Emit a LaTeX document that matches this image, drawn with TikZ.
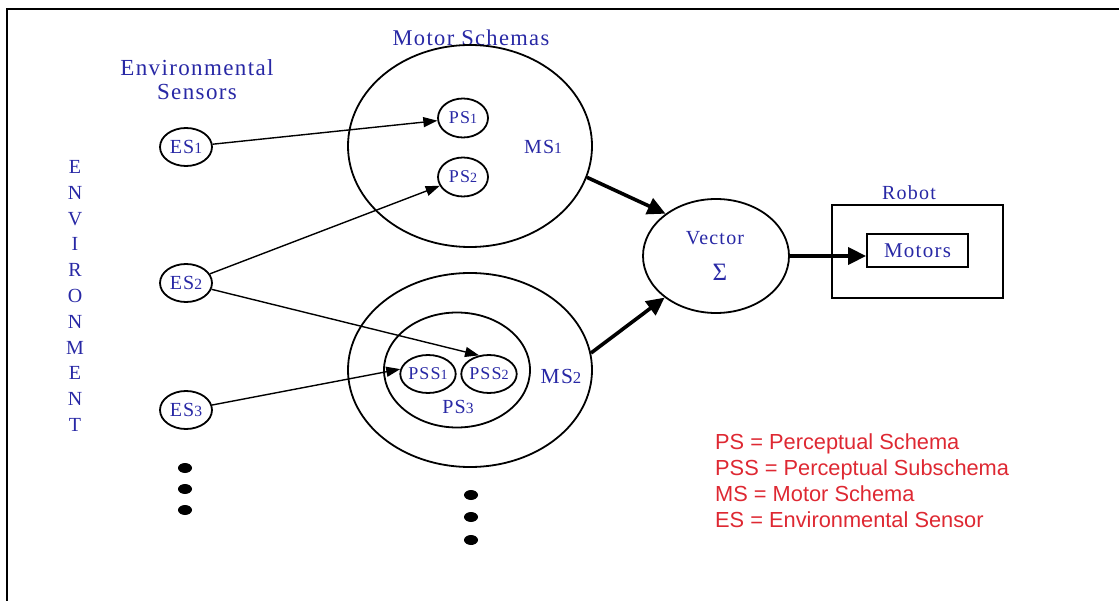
\documentclass[tikz,border=0pt]{standalone}
\usepackage{fontspec}
\setmainfont{Liberation Serif}
\newfontfamily\legendfont{Liberation Sans}
\usetikzlibrary{shapes.geometric,arrows.meta}
\definecolor{txtblue}{RGB}{40,40,165}
\definecolor{legred}{RGB}{222,40,50}
\newcommand\smalldig[1]{\scalebox{0.78}{#1}}
\newcommand\bfs[1]{\fontsize{#1}{#1}\selectfont\addfontfeature{LetterSpace=6}}
\begin{document}
\begin{tikzpicture}[x=1pt,y=-1pt,
  lbl/.style={text=txtblue, inner sep=0pt},
  ell/.style={draw, ellipse, line width=1.8pt, inner sep=0pt, text=txtblue},
  thinarrow/.style={line width=1.4pt, -{Triangle[length=14pt,width=10pt]}},
  thickarrow/.style={line width=3.6pt, -{Triangle[length=18pt,width=17pt]}},
  dotmark/.style={fill=black, ellipse, inner sep=0pt, minimum width=14pt, minimum height=10pt}
]
\useasboundingbox (0,0) rectangle (1119,601);
% frame
\draw[line width=2pt] (7,601) -- (7,9) -- (1119,9);

% titles
\node[lbl, font=\bfs{23}, align=center] (envsens) at (197,80) {Environmental\\[1pt]Sensors};
\node[lbl, font=\bfs{22.5}] (mstitle) at (471,38) {Motor Schemas};
\node[lbl, font=\bfs{20}, align=center] (envword) at (75,296)
  {E\\[5.8pt]N\\[5.8pt]V\\[5.8pt]I\\[5.8pt]R\\[5.8pt]O\\[5.8pt]N\\[5.8pt]M\\[5.8pt]E\\[5.8pt]N\\[5.8pt]T};

% environmental sensors
\node[ell, minimum width=52pt, minimum height=38pt, font=\bfs{20}] (es1) at (186,147) {ES\smalldig{1}};
\node[ell, minimum width=52pt, minimum height=38pt, font=\bfs{20}] (es2) at (186,283) {ES\smalldig{2}};
\node[ell, minimum width=52pt, minimum height=38pt, font=\bfs{20}] (es3) at (186,410) {ES\smalldig{3}};
\node[dotmark] (d1) at (185,468) {};
\node[dotmark] (d2) at (185,489) {};
\node[dotmark] (d3) at (185,510) {};

% motor schema 1
\node[ell, minimum width=244pt, minimum height=202pt] (ms1) at (470,146) {};
\node[lbl, font=\bfs{20}] (ms1l) at (543,147) {MS\smalldig{1}};
\node[ell, minimum width=50pt, minimum height=39pt, font=\bfs{18}] (ps1) at (463,118) {PS\smalldig{1}};
\node[ell, minimum width=50pt, minimum height=39pt, font=\bfs{18}] (ps2) at (463,177) {PS\smalldig{2}};

% motor schema 2
\node[ell, minimum width=244pt, minimum height=194pt] (ms2) at (470,370) {};
\node[lbl, font=\bfs{21.5}] (ms2l) at (561,376) {MS\smalldig{2}};
\node[ell, minimum width=146pt, minimum height=115pt] (ps3) at (457,370) {};
\node[lbl, font=\bfs{20}] (ps3l) at (458,407) {PS\smalldig{3}};
\node[ell, minimum width=52pt, minimum height=38pt, font=\bfs{18}] (pss1) at (428,374) {PSS\smalldig{1}};
\node[ell, minimum width=52pt, minimum height=38pt, font=\bfs{18}] (pss2) at (489,374) {PSS\smalldig{2}};
\node[dotmark] (d4) at (471,495) {};
\node[dotmark] (d5) at (471,517) {};
\node[dotmark] (d6) at (471,540) {};

% vector summation
\node[ell, minimum width=146pt, minimum height=114pt] (vec) at (716,256) {};
\node[lbl, font=\bfs{20}] (vecl) at (715,238) {Vector};
\node[lbl, font=\fontsize{25}{25}\selectfont] (sigma) at (720,272) {Σ};

% robot
\node[draw, line width=1.8pt, minimum width=171pt, minimum height=93pt, inner sep=0pt] (robot) at (917.5,251.5) {};
\node[lbl, font=\bfs{20}] (robotl) at (909,193) {Robot};
\node[draw, line width=1.8pt, minimum width=101pt, minimum height=33pt, inner sep=0pt, text=txtblue, font=\bfs{21}] (motors) at (917.5,250.5) {Motors};

% connectors
\draw[thinarrow] (es1) -- (ps1);
\draw[thinarrow] (es2) -- (ps2);
\draw[thinarrow] (es2) -- (pss2.118);
\draw[thinarrow] (es3) -- (pss1.170);
\draw[thickarrow] (ms1.-15) -- (vec.140);
\draw[thickarrow] (ms2.8) -- (vec.219);
\draw[thickarrow] (vec.east) -- (vec.east -| motors.west);

% legend
\node[anchor=north west, inner sep=0pt, text=legred, align=left,
      font=\legendfont\fontsize{21.8}{26}\selectfont] (legend) at (715,434)
  {PS = Perceptual Schema\\PSS = Perceptual Subschema\\MS = Motor Schema\\ES = Environmental Sensor};
\end{tikzpicture}
\end{document}
